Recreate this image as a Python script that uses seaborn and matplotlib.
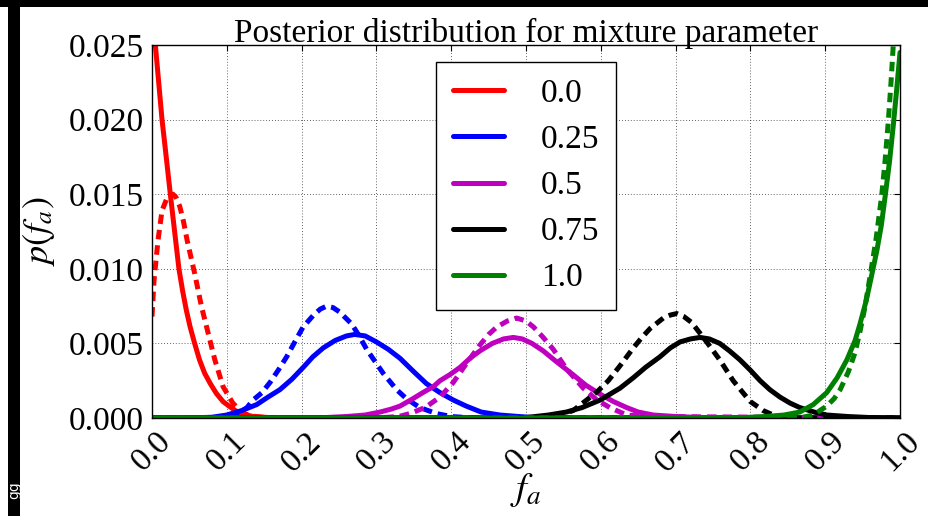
import numpy as np
import pandas as pd
import matplotlib
matplotlib.use("Agg")
import matplotlib.pyplot as plt
import seaborn as sns
from matplotlib.ticker import FormatStrFormatter
from matplotlib.patches import Rectangle

# ---------------- data ----------------
labels = ["0.0", "0.25", "0.5", "0.75", "1.0"]
colors = ["#ff0000", "#0000ff", "#bf00bf", "#000000", "#008000"]

red_solid_f = [0, 0.0045, 0.0134, 0.019, 0.0245, 0.030, 0.036, 0.041, 0.046, 0.051, 0.057, 0.0635, 0.0704, 0.078, 0.086, 0.095, 0.104, 0.112, 0.119, 0.135, 0.16, 0.2, 1.0]
red_solid_p = [0.0275, 0.025, 0.020, 0.0175, 0.015, 0.0126, 0.010, 0.0085, 0.0072, 0.0061, 0.0050, 0.0039, 0.0030, 0.0023, 0.00165, 0.0011, 0.00076, 0.00048, 0.0003, 0.0001, 0.00002, 0, 0]
red_dash_f = [0, 0.0027, 0.008, 0.0134, 0.0205, 0.024, 0.028, 0.032, 0.037, 0.042, 0.047, 0.057, 0.066, 0.075, 0.084, 0.095, 0.108, 0.122, 0.14, 0.16, 0.2, 1.0]
red_dash_p = [0.0068, 0.0092, 0.0119, 0.0139, 0.0148, 0.01497, 0.0150, 0.0148, 0.0142, 0.0132, 0.0119, 0.0097, 0.0075, 0.0057, 0.0039, 0.0021, 0.0010, 0.0003, 0.00008, 0.00001, 0, 0]

blue_solid_f = [0, 0.05, 0.08, 0.1, 0.12, 0.14, 0.155, 0.171, 0.187, 0.2023, 0.215, 0.229, 0.245, 0.26, 0.271, 0.285, 0.3, 0.316, 0.3316, 0.35, 0.367, 0.385, 0.403, 0.42, 0.44, 0.465, 0.49, 0.52, 1.0]
blue_solid_p = [0, 0, 0.00005, 0.0002, 0.0005, 0.0009, 0.0014, 0.0019, 0.0026, 0.0034, 0.0041, 0.0047, 0.0052, 0.0055, 0.0056, 0.0055, 0.0051, 0.0046, 0.0040, 0.0031, 0.0023, 0.0017, 0.0012, 0.0008, 0.0004, 0.0002, 0.0001, 0, 0]
blue_dash_f = [0, 0.08, 0.1, 0.115, 0.127, 0.135, 0.147, 0.158, 0.17, 0.18, 0.192, 0.202, 0.216, 0.225, 0.2335, 0.242, 0.251, 0.267, 0.277, 0.287, 0.298, 0.309, 0.327, 0.34, 0.358, 0.38, 0.4, 0.43, 1.0]
blue_dash_p = [0, 0, 0.0001, 0.0003, 0.0007, 0.0012, 0.0017, 0.0024, 0.0033, 0.0041, 0.0052, 0.0061, 0.0069, 0.0073, 0.0075, 0.0074, 0.0071, 0.0063, 0.0055, 0.0046, 0.0038, 0.0030, 0.0019, 0.0013, 0.0007, 0.0003, 0.0001, 0, 0]

mag_solid_f = [0, 0.22, 0.26, 0.285, 0.305, 0.32, 0.3316, 0.349, 0.362, 0.376, 0.385, 0.398, 0.412, 0.425, 0.4385, 0.455, 0.47, 0.483, 0.495, 0.508, 0.523, 0.54, 0.563, 0.58, 0.599, 0.617, 0.6346, 0.65, 0.67, 0.7, 0.75, 1.0]
mag_solid_p = [0, 0, 0.0001, 0.0002, 0.0004, 0.0006, 0.0008, 0.0013, 0.0017, 0.0021, 0.0025, 0.0029, 0.0034, 0.0040, 0.0045, 0.0050, 0.0053, 0.0054, 0.0053, 0.0050, 0.0045, 0.0038, 0.0029, 0.0022, 0.0016, 0.0011, 0.0007, 0.0004, 0.0002, 0.0001, 0, 0]
mag_dash_f = [0, 0.3, 0.33, 0.345, 0.365, 0.385, 0.403, 0.421, 0.4385, 0.45, 0.461, 0.475, 0.4875, 0.5, 0.51, 0.523, 0.5365, 0.554, 0.5766, 0.595, 0.612, 0.6346, 0.66, 1.0]
mag_dash_p = [0, 0, 0.0001, 0.0003, 0.0007, 0.0014, 0.0024, 0.0037, 0.0049, 0.0056, 0.0061, 0.0065, 0.0067, 0.0065, 0.0061, 0.0054, 0.0046, 0.0033, 0.0020, 0.0012, 0.0007, 0.0002, 0.0001, 0]

blk_solid_f = [0, 0.45, 0.5, 0.53, 0.554, 0.575, 0.599, 0.6257, 0.6435, 0.66, 0.679, 0.693, 0.706, 0.72, 0.7326, 0.745, 0.759, 0.772, 0.786, 0.8, 0.813, 0.826, 0.8396, 0.853, 0.866, 0.885, 0.902, 0.93, 0.96, 1.0]
blk_solid_p = [0, 0, 0.00003, 0.0002, 0.0004, 0.0007, 0.0012, 0.0020, 0.0027, 0.0034, 0.0041, 0.0047, 0.0051, 0.0053, 0.0054, 0.0053, 0.0050, 0.0045, 0.0039, 0.0032, 0.0025, 0.0019, 0.0014, 0.0010, 0.0007, 0.0004, 0.0002, 0.0001, 0.00003, 0]
blk_dash_f = [0, 0.5, 0.54, 0.563, 0.581, 0.596, 0.61, 0.6257, 0.6435, 0.655, 0.666, 0.6836, 0.693, 0.7015, 0.711, 0.7215, 0.7415, 0.759, 0.777, 0.79, 0.80, 0.817, 0.835, 0.86, 1.0]
blk_dash_p = [0, 0, 0.0001, 0.0005, 0.0012, 0.0018, 0.0025, 0.0035, 0.0047, 0.0054, 0.0060, 0.0067, 0.0069, 0.0070, 0.0068, 0.0064, 0.0051, 0.0039, 0.0025, 0.0017, 0.0011, 0.0005, 0.0001, 0, 0]

grn_solid_f = [0, 0.78, 0.82, 0.845, 0.866, 0.884, 0.902, 0.916, 0.929, 0.94, 0.9465, 0.955, 0.961, 0.969, 0.975, 0.98, 0.986, 0.991, 0.995, 1.0]
grn_solid_p = [0, 0, 0.0001, 0.0002, 0.0004, 0.0009, 0.0017, 0.0027, 0.0039, 0.0052, 0.0063, 0.0079, 0.0093, 0.0112, 0.0129, 0.0148, 0.0172, 0.0196, 0.0217, 0.0245]
grn_dash_f = [0, 0.85, 0.87, 0.884, 0.902, 0.912, 0.92, 0.931, 0.94, 0.9465, 0.953, 0.96, 0.968, 0.9755, 0.98, 0.9844, 0.988, 0.991, 0.995, 1.0]
grn_dash_p = [0, 0, 0.00005, 0.0002, 0.0008, 0.0013, 0.0019, 0.0031, 0.0044, 0.0058, 0.0074, 0.0095, 0.0120, 0.0149, 0.0172, 0.0199, 0.0225, 0.0250, 0.0285, 0.034]

solid_curves = [(red_solid_f, red_solid_p), (blue_solid_f, blue_solid_p), (mag_solid_f, mag_solid_p),
                (blk_solid_f, blk_solid_p), (grn_solid_f, grn_solid_p)]
dash_curves = [(red_dash_f, red_dash_p), (blue_dash_f, blue_dash_p), (mag_dash_f, mag_dash_p),
               (blk_dash_f, blk_dash_p), (grn_dash_f, grn_dash_p)]

x_ticks = [0.0, 0.1, 0.2, 0.3, 0.4, 0.5, 0.6, 0.7, 0.8, 0.9, 1.0]
y_ticks = [0.000, 0.005, 0.010, 0.015, 0.020, 0.025]

# ---------------- style ----------------
sns.set_style("white")
plt.rcParams["font.family"] = ["Liberation Serif", "DejaVu Serif"]
plt.rcParams["mathtext.fontset"] = "stix"
for k in ["text.color", "axes.labelcolor", "xtick.color", "ytick.color"]:
    plt.rcParams[k] = "black"

fig = plt.figure(figsize=(9.29, 5.16), dpi=100)
ax = fig.add_axes([152 / 929, 1 - 418 / 516, (900 - 152) / 929, (418 - 45) / 516])

LW = 3.6
handles = []
for i in range(5):
    sf, sp = solid_curves[i]
    df_s = pd.DataFrame({"f": sf, "p": sp})
    sns.lineplot(data=df_s, x="f", y="p", color=colors[i], lw=LW, ax=ax,
                 sort=False, estimator=None)
    handles.append(ax.lines[-1])
    df_d = pd.DataFrame({"f": dash_curves[i][0], "p": dash_curves[i][1]})
    sns.lineplot(data=df_d, x="f", y="p", color=colors[i], lw=LW, ax=ax,
                 sort=False, estimator=None, linestyle=(0, (1.9, 1.2)))

ax.set_xlim(0, 1)
ax.set_ylim(0, 0.025)
ax.set_xticks(x_ticks)
ax.set_yticks(y_ticks)
ax.yaxis.set_major_formatter(FormatStrFormatter("%.3f"))
ax.xaxis.set_major_formatter(FormatStrFormatter("%.1f"))
ax.tick_params(axis="both", which="major", direction="in", length=4, width=0.8,
               top=True, right=True, labelsize=24, colors="black", pad=6)
for lab in ax.get_xticklabels():
    lab.set_rotation(45)
    lab.set_ha("center")

ax.grid(True, color="black", linestyle=(0, (1, 2.5)), linewidth=0.6, alpha=0.8)
for s in ax.spines.values():
    s.set_visible(True)
    s.set_color("black")
    s.set_linewidth(1.0)

ax.set_title("Posterior distribution for mixture parameter", fontsize=24, pad=2)
ax.set_xlabel("$f_a$", fontsize=28, labelpad=-5)
ax.set_ylabel("$p(f_a)$", fontsize=26, labelpad=8)

leg = ax.legend(handles=handles, labels=labels, loc="upper center", fontsize=24,
                frameon=True, fancybox=False, edgecolor="black", framealpha=1,
                handlelength=1.55, handletextpad=1.1, labelspacing=0.47,
                borderpad=0.5, borderaxespad=0.5)
leg.get_frame().set_linewidth(1.0)

# black framing bars at the edges of the reference image
fig.patches.append(Rectangle((0, 1 - 7 / 516), 1, 7 / 516, transform=fig.transFigure,
                             facecolor="black", edgecolor="none", zorder=10))
fig.patches.append(Rectangle((8 / 929, 0), 12 / 929, 1, transform=fig.transFigure,
                             facecolor="black", edgecolor="none", zorder=10))
fig.text(14 / 929, 1 - 490 / 516, "gg", color="white", rotation=90, fontsize=10,
         ha="center", va="center", zorder=11, family="DejaVu Sans")

fig.savefig("out.png", dpi=100, facecolor="white")
